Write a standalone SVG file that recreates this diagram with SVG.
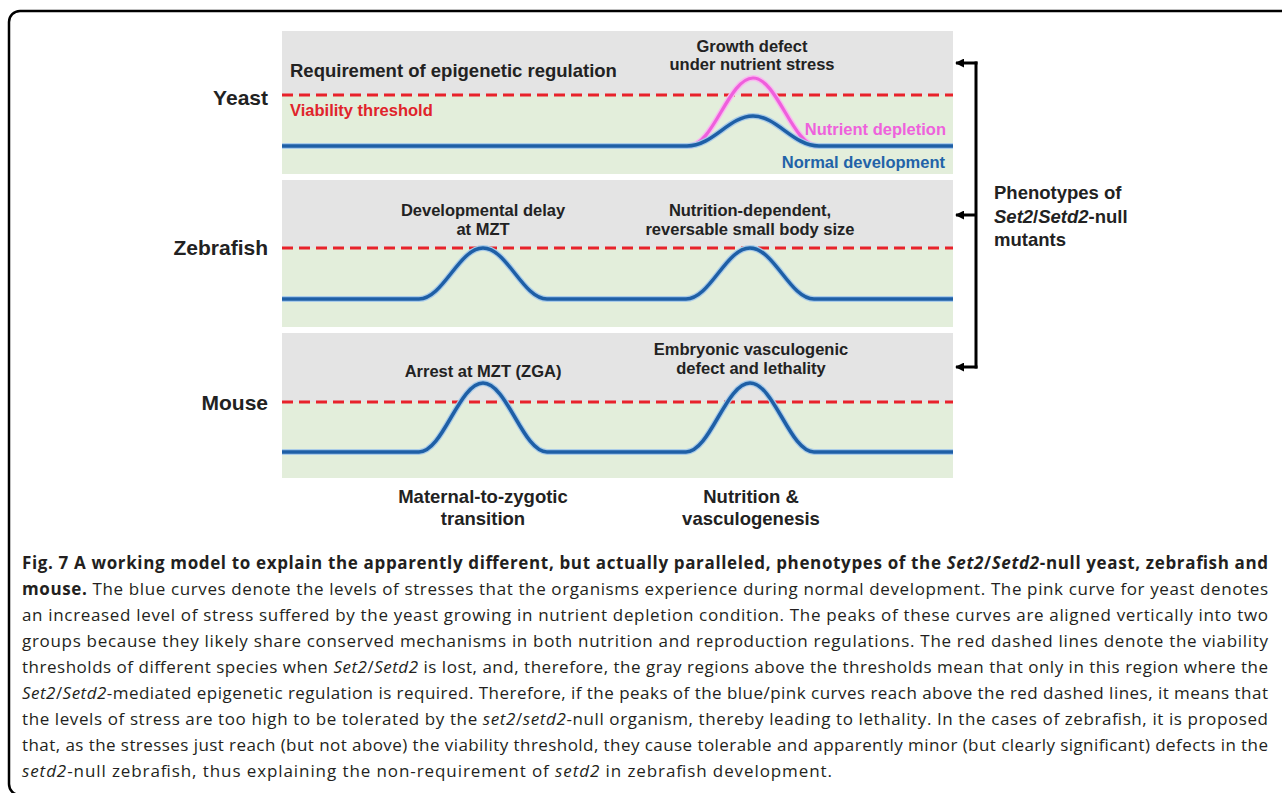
<svg xmlns="http://www.w3.org/2000/svg" width="1282" height="793" viewBox="0 0 1282 793">
  <defs>
    <style>
      .gray { fill: #e4e4e4; }
      .green { fill: #e3eedb; }
      .thr { stroke: #e8222b; stroke-width: 3; stroke-dasharray: 11 6; fill: none; }
      .halo { stroke: #a9cbe8; stroke-width: 6; fill: none; stroke-linejoin: round; }
      .blue { stroke: #1e5fa6; stroke-width: 3.5; fill: none; stroke-linejoin: round; }
      .pinkhalo { stroke: #f8b9ef; stroke-width: 6; fill: none; }
      .pink { stroke: #ef5fdc; stroke-width: 3.2; fill: none; }
      .sp { font-family: "Liberation Sans", Arial, sans-serif; font-weight: bold; fill: #222; }
      .lbl { font-size: 16.5px; text-anchor: middle; }
      .org { font-size: 21px; text-anchor: end; }
      .big { font-size: 18.5px; }
      .cap { font-family: "Open Sans", "Noto Sans", sans-serif; font-size: 17px; fill: #231f20; }
      .b { font-weight: bold; }
      .i { font-style: italic; }
      .brk { stroke: #000; stroke-width: 3; fill: none; }
    </style>
    <marker id="arr" viewBox="0 0 10 10" refX="9" refY="5" markerWidth="3" markerHeight="3" orient="auto" markerUnits="strokeWidth">
      <path d="M0,0 L10,5 L0,10 Z" fill="#000"/>
    </marker>
  </defs>

  <rect x="9" y="11" width="1300" height="784" rx="11" ry="11" fill="#fff" stroke="#000" stroke-width="2.5"/>

  <g id="yeast">
    <rect class="gray" x="282" y="31" width="671" height="143"/>
    <rect class="green" x="282" y="95" width="671" height="79"/>
    <line class="thr" x1="282" y1="95" x2="953" y2="95"/>
    <text class="sp org" x="268" y="105">Yeast</text>
    <text class="sp big" x="290" y="77">Requirement of epigenetic regulation</text>
    <text class="sp lbl" x="290" y="116" style="text-anchor:start;fill:#e0242b">Viability threshold</text>
    <text class="sp lbl" x="752" y="52">Growth defect</text>
    <text class="sp lbl" x="752" y="70">under nutrient stress</text>
    <path class="pinkhalo" d="M689,146 C713,146 729,78 753,78 C777,78 793,146 817,146"/>
    <path class="pink" d="M689,146 C713,146 729,78 753,78 C777,78 793,146 817,146"/>
    <path class="halo" d="M282,146 H687 C713,146 729,116 753,116 C777,116 793,146 819,146 H953"/>
    <path class="blue" d="M282,146 H687 C713,146 729,116 753,116 C777,116 793,146 819,146 H953"/>
    <text class="sp lbl" x="946" y="135" style="text-anchor:end;fill:#ee62dc">Nutrient depletion</text>
    <text class="sp lbl" x="945" y="168" style="text-anchor:end;fill:#2263a8">Normal development</text>
  </g>

  <g id="zebrafish">
    <rect class="gray" x="282" y="180" width="671" height="147"/>
    <rect class="green" x="282" y="248" width="671" height="79"/>
    <line class="thr" x1="282" y1="248" x2="953" y2="248"/>
    <text class="sp org" x="268" y="255">Zebrafish</text>
    <text class="sp lbl" x="483" y="216">Developmental delay</text>
    <text class="sp lbl" x="483" y="235">at MZT</text>
    <text class="sp lbl" x="750" y="216">Nutrition-dependent,</text>
    <text class="sp lbl" x="750" y="235">reversable small body size</text>
    <path class="halo" d="M282,299 H419 C443,299 459,248 483,248 C507,248 523,299 547,299 H686 C710,299 726,248 750,248 C774,248 790,299 814,299 H953"/>
    <path class="blue" d="M282,299 H419 C443,299 459,248 483,248 C507,248 523,299 547,299 H686 C710,299 726,248 750,248 C774,248 790,299 814,299 H953"/>
  </g>

  <g id="mouse">
    <rect class="gray" x="282" y="333" width="671" height="145"/>
    <rect class="green" x="282" y="402" width="671" height="76"/>
    <line class="thr" x1="282" y1="402" x2="953" y2="402"/>
    <text class="sp org" x="268" y="410">Mouse</text>
    <text class="sp lbl" x="483" y="377">Arrest at MZT (ZGA)</text>
    <text class="sp lbl" x="751" y="355">Embryonic vasculogenic</text>
    <text class="sp lbl" x="751" y="374">defect and lethality</text>
    <path class="halo" d="M282,452 H419 C443,452 459,383 483,383 C507,383 523,452 547,452 H686 C710,452 726,383 750,383 C774,383 790,452 814,452 H953"/>
    <path class="blue" d="M282,452 H419 C443,452 459,383 483,383 C507,383 523,452 547,452 H686 C710,452 726,383 750,383 C774,383 790,452 814,452 H953"/>
  </g>

  <g id="axis-labels">
    <text class="sp big" x="483" y="503" text-anchor="middle">Maternal-to-zygotic</text>
    <text class="sp big" x="483" y="525" text-anchor="middle">transition</text>
    <text class="sp big" x="751" y="503" text-anchor="middle">Nutrition &amp;</text>
    <text class="sp big" x="751" y="525" text-anchor="middle">vasculogenesis</text>
  </g>

  <g id="connectors">
    <path class="brk" d="M976,61.5 V368.5"/>
    <line class="brk" x1="977.5" y1="63" x2="956" y2="63" marker-end="url(#arr)"/>
    <line class="brk" x1="976" y1="215" x2="956" y2="215" marker-end="url(#arr)"/>
    <line class="brk" x1="977.5" y1="367" x2="956" y2="367" marker-end="url(#arr)"/>
  </g>

  <g id="phenotypes">
    <text class="sp big" x="994" y="199">Phenotypes of</text>
    <text class="sp big" x="994" y="223"><tspan class="i">Set2</tspan>/<tspan class="i">Setd2</tspan>-null</text>
    <text class="sp big" x="994" y="246">mutants</text>
  </g>

  <g id="caption">
    <text class="cap b" x="22" y="569" textLength="1246" lengthAdjust="spacing">Fig. 7 A working model to explain the apparently different, but actually paralleled, phenotypes of the <tspan class="i">Set2</tspan>/<tspan class="i">Setd2</tspan>-null yeast, zebrafish and</text>
    <text class="cap" x="22" y="595" textLength="1246" lengthAdjust="spacing"><tspan class="b">mouse.</tspan> The blue curves denote the levels of stresses that the organisms experience during normal development. The pink curve for yeast denotes</text>
    <text class="cap" x="22" y="621" textLength="1246" lengthAdjust="spacing">an increased level of stress suffered by the yeast growing in nutrient depletion condition. The peaks of these curves are aligned vertically into two</text>
    <text class="cap" x="22" y="647" textLength="1246" lengthAdjust="spacing">groups because they likely share conserved mechanisms in both nutrition and reproduction regulations. The red dashed lines denote the viability</text>
    <text class="cap" x="22" y="673" textLength="1246" lengthAdjust="spacing">thresholds of different species when <tspan class="i">Set2</tspan>/<tspan class="i">Setd2</tspan> is lost, and, therefore, the gray regions above the thresholds mean that only in this region where the</text>
    <text class="cap" x="22" y="699" textLength="1246" lengthAdjust="spacing"><tspan class="i">Set2</tspan>/<tspan class="i">Setd2</tspan>-mediated epigenetic regulation is required. Therefore, if the peaks of the blue/pink curves reach above the red dashed lines, it means that</text>
    <text class="cap" x="22" y="725" textLength="1246" lengthAdjust="spacing">the levels of stress are too high to be tolerated by the <tspan class="i">set2</tspan>/<tspan class="i">setd2</tspan>-null organism, thereby leading to lethality. In the cases of zebrafish, it is proposed</text>
    <text class="cap" x="22" y="751" textLength="1246" lengthAdjust="spacing">that, as the stresses just reach (but not above) the viability threshold, they cause tolerable and apparently minor (but clearly significant) defects in the</text>
    <text class="cap" x="22" y="777" textLength="810" lengthAdjust="spacing"><tspan class="i">setd2</tspan>-null zebrafish, thus explaining the non-requirement of <tspan class="i">setd2</tspan> in zebrafish development.</text>
  </g>
</svg>
